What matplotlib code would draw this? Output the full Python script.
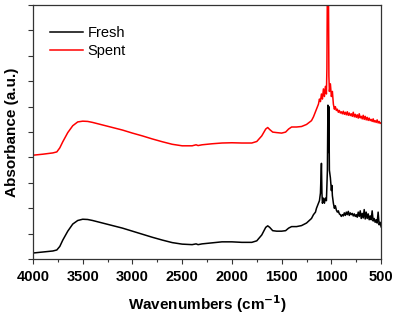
import matplotlib
matplotlib.use("Agg")
import matplotlib.pyplot as plt
from matplotlib.ticker import MultipleLocator

plt.rcParams["font.family"] = ["Liberation Sans", "DejaVu Sans"]

# Fresh catalyst spectrum (wavenumber, absorbance in arbitrary units)
fresh_wn = [4000, 3900, 3800, 3760, 3730, 3700, 3650, 3600, 3550, 3500, 3450, 3400,
            3300, 3200, 3100, 3000, 2900, 2800, 2700, 2600, 2500, 2400, 2360, 2340,
            2300, 2200, 2100, 2000, 1900, 1800, 1750, 1700, 1660, 1640, 1620, 1590,
            1550, 1500, 1460, 1430, 1400, 1350, 1300, 1250, 1200, 1180, 1160, 1150,
            1140, 1130, 1120, 1110, 1100, 1095, 1090, 1080, 1070, 1060, 1050, 1040,
            1035, 1030, 1025, 1020, 1010, 1000, 995, 990, 980, 970, 960, 950, 940,
            930, 920, 910, 900, 890, 880, 870, 860, 850, 840, 830, 820, 810, 800,
            790, 780, 770, 760, 750, 740, 730, 720, 710, 700, 690, 680, 670, 660,
            650, 640, 630, 620, 610, 600, 590, 580, 570, 560, 550, 540, 530, 520,
            510, 500]
fresh_abs = [0.24, 0.28, 0.32, 0.36, 0.50, 0.75, 1.10, 1.38, 1.52, 1.57, 1.56, 1.52,
             1.42, 1.32, 1.22, 1.10, 0.98, 0.86, 0.75, 0.65, 0.59, 0.57, 0.60, 0.57,
             0.60, 0.64, 0.68, 0.68, 0.66, 0.66, 0.72, 0.95, 1.25, 1.31, 1.25, 1.12,
             1.10, 1.10, 1.12, 1.22, 1.28, 1.28, 1.32, 1.42, 1.60, 1.75, 1.85, 2.00,
             2.10, 2.20, 2.30, 2.60, 3.77, 2.60, 2.20, 2.40, 2.20, 2.40, 2.30, 3.50,
             6.06, 4.20, 6.00, 3.50, 3.20, 2.70, 2.90, 2.50, 2.20, 2.00, 2.10, 1.93,
             1.85, 1.90, 1.78, 1.75, 1.68, 1.75, 1.70, 1.82, 1.72, 1.85, 1.75, 1.88,
             1.72, 1.82, 1.75, 1.80, 1.70, 1.78, 1.68, 1.75, 1.65, 1.85, 1.68, 1.90,
             1.60, 1.80, 1.62, 1.95, 1.58, 1.85, 1.60, 1.78, 1.55, 1.70, 1.55, 1.90,
             1.50, 1.60, 1.45, 1.55, 1.42, 1.85, 1.35, 1.45, 1.27]

# Spent catalyst spectrum
spent_wn = [4000, 3900, 3800, 3760, 3730, 3700, 3650, 3600, 3550, 3500, 3450, 3400,
            3300, 3200, 3100, 3000, 2900, 2800, 2700, 2600, 2500, 2400, 2360, 2340,
            2300, 2200, 2100, 2000, 1900, 1800, 1750, 1700, 1660, 1640, 1620, 1590,
            1550, 1500, 1460, 1430, 1400, 1350, 1300, 1250, 1200, 1180, 1160, 1150,
            1140, 1130, 1120, 1110, 1100, 1090, 1080, 1070, 1060, 1050, 1045, 1040,
            1035, 1030, 1025, 1020, 1010, 1000, 990, 980, 970, 960, 950, 940, 930,
            920, 910, 900, 890, 880, 870, 860, 850, 840, 830, 820, 810, 800, 790,
            780, 770, 760, 750, 740, 730, 720, 710, 700, 690, 680, 670, 660, 650,
            640, 630, 620, 610, 600, 590, 580, 570, 560, 550, 540, 530, 520, 510, 500]
spent_abs = [4.09, 4.13, 4.18, 4.22, 4.38, 4.62, 4.98, 5.25, 5.40, 5.43, 5.42, 5.38,
             5.28, 5.18, 5.08, 4.96, 4.85, 4.73, 4.62, 4.52, 4.46, 4.46, 4.50, 4.47,
             4.50, 4.54, 4.57, 4.58, 4.57, 4.57, 4.63, 4.85, 5.12, 5.18, 5.10, 5.00,
             4.98, 4.96, 5.00, 5.12, 5.20, 5.20, 5.22, 5.30, 5.45, 5.60, 5.80, 5.90,
             6.00, 6.10, 6.30, 6.20, 6.50, 6.30, 6.70, 6.40, 6.80, 6.50, 7.50, 11.0,
             10.5, 11.0, 7.20, 6.60, 6.90, 6.40, 6.60, 6.10, 5.90, 6.00, 5.85, 5.90,
             5.78, 5.85, 5.75, 5.80, 5.72, 5.82, 5.70, 5.78, 5.68, 5.80, 5.66, 5.75,
             5.65, 5.72, 5.62, 5.78, 5.60, 5.70, 5.58, 5.68, 5.55, 5.72, 5.56, 5.62,
             5.52, 5.66, 5.50, 5.62, 5.48, 5.58, 5.46, 5.55, 5.45, 5.50, 5.42, 5.52,
             5.40, 5.45, 5.38, 5.48, 5.36, 5.42, 5.34, 5.37]

fig = plt.figure(figsize=(3.97, 3.16), dpi=100)
ax = fig.add_axes([0.083, 0.180, 0.877, 0.804])

ax.plot(fresh_wn, fresh_abs, color="black", linewidth=1.1, label="Fresh")
ax.plot(spent_wn, spent_abs, color="#ff0000", linewidth=1.1, label="Spent")

ax.set_xlim(4000, 500)
ax.set_ylim(0, 10)
ax.xaxis.set_major_locator(MultipleLocator(500))
ax.xaxis.set_minor_locator(MultipleLocator(250))
ax.yaxis.set_major_locator(MultipleLocator(1))
ax.set_yticklabels([])

ax.tick_params(axis="both", which="both", direction="out", width=0.8, color="#333333")
ax.tick_params(axis="both", which="major", length=3.5)
ax.tick_params(axis="x", which="minor", length=2.0)
ax.tick_params(axis="x", labelsize=10.5, pad=4)
for lbl in ax.get_xticklabels():
    lbl.set_fontweight("bold")
for sp in ax.spines.values():
    sp.set_linewidth(0.9)
    sp.set_color("#333333")

ax.set_xlabel("Wavenumbers (cm$^{\\mathbf{-1}}$)", fontsize=11, fontweight="bold", labelpad=7)
ax.set_ylabel("Absorbance (a.u.)", fontsize=11, fontweight="bold", labelpad=3)

ax.legend(loc="upper left", bbox_to_anchor=(0.01, 0.97), frameon=False, fontsize=10.5,
          handlelength=2.3, handletextpad=0.3, labelspacing=0.3)

fig.savefig("out.png", dpi=100)
